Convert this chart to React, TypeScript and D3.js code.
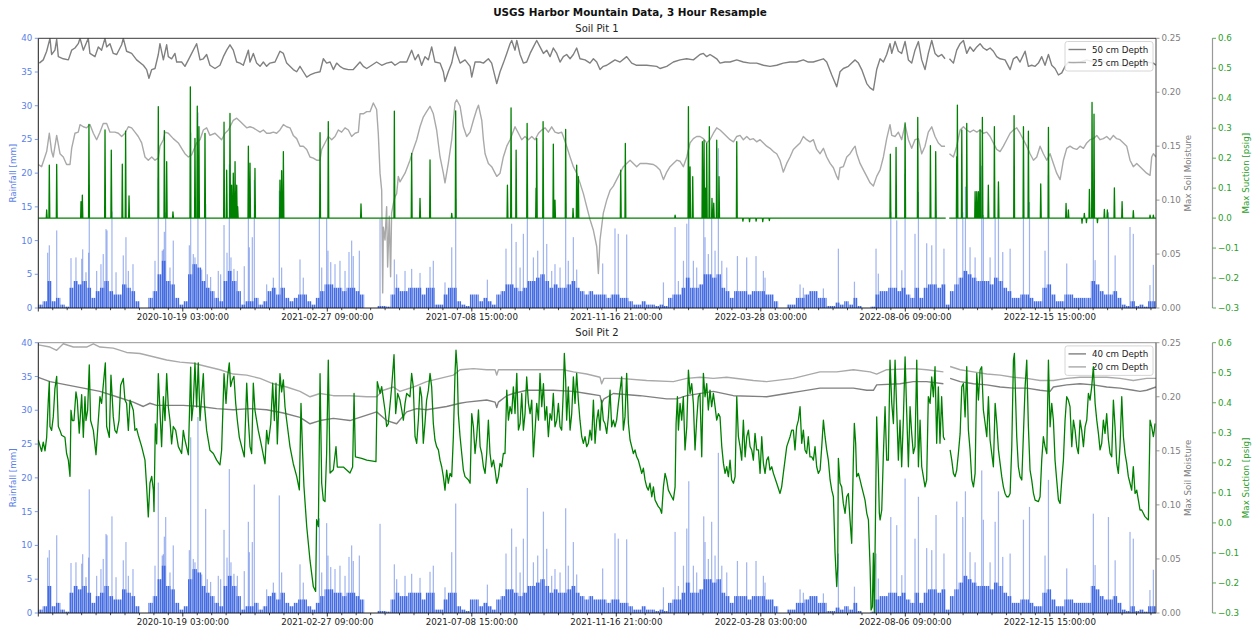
import React from "react";
import * as d3 from "d3";

type Pt = [number, number | null];

// ---- time base (3-hour resample index expressed in days from start) ----
const START_MS = Date.UTC(2020, 5, 9, 21, 0, 0);
const DAY_MS = 86400000;
const SPAN_DAYS = 1015.2;
const MAJOR_STEP_DAYS = 131.25;
const MINOR_PER_MAJOR = 10;
const RAIN_BIN_DAYS = 4;
const GAPS: [number, number][] = [[824.2, 827.4]];

const rainTicks = [0, 5, 10, 15, 20, 25, 30, 35, 40];
const moistureTicks = [0, 0.05, 0.1, 0.15, 0.2, 0.25];
const suctionTicks = [-0.3, -0.2, -0.1, 0, 0.1, 0.2, 0.3, 0.4, 0.5, 0.6];

// ---- rainfall (shared by both pits): typical dense height per 4-day bin, mm ----
const rainBulk = [
  0.5, 1, 4, 1, 1.5, 0.5, 0.2, 3, 4, 3.5, 4, 3, 1.5, 2.5, 3, 4, 2.5, 2, 2, 3.5,
  3, 2.5, 1, 0, 0, 1.5, 2.5, 5, 7, 4, 3.5, 1.5, 0.5, 1, 5, 6.5, 6, 4, 3, 2.5,
  1.5, 1, 4, 5.5, 4, 2.5, 0.5, 1, 1, 1.5, 0.5, 1, 2.5, 3, 2, 3, 1.5, 1, 1.5, 2,
  2, 1, 0.5, 1.5, 2.5, 3.5, 3.5, 3, 3, 2.5, 3, 3, 2.5, 2, 0, 0, 0, 0.3, 0.3, 0.2,
  2, 3, 2.5, 2.5, 3, 3, 3, 2, 3, 3, 0.5, 0.5, 2, 3, 3, 1, 0.5, 0.3, 2, 2,
  1, 1.5, 1, 0.5, 2, 2.5, 3.5, 3.5, 3, 2.5, 3, 4, 4, 4.5, 5, 4, 3, 3.5, 3, 3,
  3.5, 4, 3, 2.5, 2, 2.5, 2, 2, 2, 1.5, 2, 2, 1.5, 1.5, 1, 0.5, 0.5, 1, 0.5, 0.5,
  0.3, 0.5, 0.3, 1.5, 2, 2, 3, 4.5, 3, 3, 3.5, 5, 5, 4.5, 5, 3, 2.5, 1.5, 2.5, 2.5,
  2.5, 2, 2.5, 2.5, 2.5, 2, 2, 1, 0, 0, 0.5, 0.5, 1.5, 1.5, 2, 2.5, 2.5, 1.5, 1.5, 0.3,
  0.3, 0.8, 0.5, 1, 0.5, 1.5, 0.3, 0, 0, 0.2, 2, 2.5, 2.5, 3, 3, 2.5, 3, 2, 1.5, 3,
  1.5, 3, 3.5, 3.5, 3, 3.5, 0.5, 2.5, 3.5, 4.5, 5.5, 5, 4.5, 4, 4, 4, 3.5, 4.5, 4, 3,
  2.5, 1.5, 1.5, 2, 2, 1.5, 1, 1, 3, 3.5, 2, 1, 1, 2, 2, 1.5, 1.5, 1.5, 1.5, 4,
  3.5, 2.5, 2, 2, 2.5, 1.5, 0.5, 0.3, 1, 0.3, 0.5, 0.2, 1, 1,
];

// isolated tall rainfall bars [day, mm]
const rainSpikes: [number, number][] = [
  [8.5, 8.2], [10, 9.3], [16.7, 11.5], [29.7, 7.4], [34.2, 7.5], [39.4, 7.3], [40.3, 8.7], [43.3, 5.3],
  [45.7, 8.2], [46.3, 18.3], [53, 5.5], [56.9, 6.5], [59, 8], [61.5, 11.7], [62.4, 11.5], [66.9, 14.3],
  [70.6, 5.3], [77.2, 7.8], [79.6, 10.5], [81.8, 5.5], [86, 6.5], [106, 7], [109, 19.3], [112.6, 8.5],
  [113.6, 8.7], [114.5, 11.3], [115.7, 14.2], [119.6, 6], [122.6, 10], [137.2, 9.3], [138.4, 26],
  [140.8, 8], [142.3, 7.5], [145, 29], [148.4, 5.7], [152, 15.4], [153.5, 5], [156.5, 4.6], [163.5, 5.5],
  [165.6, 5], [168.7, 12.3], [171.4, 8.2], [173.5, 21.3], [175, 7.5], [177.7, 5.8], [180.8, 5.5],
  [187.1, 6.2], [190.8, 13.5], [191.7, 9], [194.4, 10.5], [196.2, 19], [207.4, 3.5], [213.5, 4.5],
  [218.9, 17.4], [221, 6], [237.7, 7.2], [240.7, 4.5], [255.3, 14], [257.4, 6], [261.9, 13.3],
  [263.1, 8.5], [265.6, 6.8], [269.5, 6.5], [274, 7], [278.6, 5.5], [282.2, 8.3], [284.6, 10],
  [286.1, 7.7], [291.6, 8.5], [310.4, 13.2], [323.4, 7.2], [325.5, 5], [333.1, 5.5], [339.1, 5.8],
  [346.7, 5.2], [355.8, 6.1], [358.8, 7], [369.4, 3.8], [375.5, 9], [379.1, 16.2], [407.9, 4.2],
  [424.8, 8.8], [429.9, 12.5], [434, 9.8], [437.6, 6], [440.6, 11], [444.2, 18.5], [449.7, 7.5],
  [453.6, 8.5], [458.8, 15], [461.8, 9.5], [466.3, 5.5], [469.3, 6.5], [473.9, 6], [479, 15.5],
  [481.4, 7], [486, 10.5], [489, 5.7], [512.6, 6.6], [523.8, 11.8], [526.8, 11], [534.4, 10.9],
  [567.8, 3.8], [578.4, 12], [581.4, 4], [586, 7], [589, 12.5], [590.8, 19.5], [595, 7], [598, 6],
  [604.4, 14.3], [605.6, 10.5], [608.6, 8], [611.6, 13.5], [614.7, 8.5], [617.7, 23.7], [620.8, 7],
  [625.3, 6], [635, 7.7], [643.4, 7.5], [651.9, 7.7], [658.6, 5.5], [660.1, 4.5], [691.9, 3.5],
  [694.9, 3], [713.1, 2.9], [726.7, 8.8], [741.3, 3.9], [760.9, 8.8], [763, 5.1], [774.3, 14.2],
  [779.7, 13], [784.3, 5.6], [787.3, 19.9], [796.3, 11], [799.4, 17.2], [806.9, 9.6], [811.5, 9.3],
  [815.4, 14.5], [822.6, 8.8], [834.2, 16.5], [839.7, 14.2], [842.1, 18], [846.3, 9], [850.9, 7.5],
  [856.9, 21.1], [858.4, 13.8], [864.5, 7.5], [869.1, 13.5], [872.1, 18], [876, 8.3], [882.7, 8.8],
  [894.8, 13.8], [900.3, 15.7], [914.4, 8.5], [917.5, 19.7], [934.1, 6.6], [958.3, 14.7],
  [959.9, 7.1], [972, 14.2], [978.1, 7.8], [991.6, 12], [994.6, 11], [1009.7, 3.4], [1012.8, 6.4],
];

// ---- Soil Pit 1 ----
const pit1Depth50: Pt[] = [
  [0.9, .227], [4.5, .230], [7.6, .238], [10.6, .25], [12.1, .235], [15.1, .239], [16.7, .249], [18.2, .233],
  [22.7, .231], [27.3, .230], [30.3, .239], [33.3, .241], [36.3, .245], [37.9, .25], [40.9, .239], [45.4, .25],
  [46.9, .236], [51.5, .233], [54.5, .242], [57.5, .239], [60.6, .25], [62.1, .242], [65.1, .245], [68.1, .236],
  [71.2, .235], [75.7, .244], [77.2, .25], [80.2, .238], [84.8, .236], [89.3, .230], [95.4, .225], [98.4, .221],
  [100.5, .213], [103, .221], [106, .222], [109, .235], [110.5, .245], [113.6, .230], [116.6, .244], [118.1, .233],
  [121.1, .231], [124.1, .236], [125.7, .228], [130.2, .228], [133.2, .224], [136.3, .230], [139.3, .236],
  [143.8, .245], [146.9, .230], [149.9, .231], [152.9, .235], [155.9, .225], [160.5, .222], [165, .225],
  [168.1, .233], [171.1, .239], [174.1, .244], [177.1, .239], [180.2, .228], [183.2, .227], [186.2, .225],
  [190.8, .239], [192.3, .228], [195.3, .236], [198.3, .227], [201.4, .224], [204.4, .228], [207.4, .224],
  [210.4, .227], [215, .228], [219.5, .238], [222.6, .236], [225.6, .227], [228.6, .224], [231.6, .221],
  [234.7, .219], [237.7, .224], [240.7, .219], [243.8, .214], [246.8, .216], [251.3, .218], [255.9, .219],
  [258.9, .231], [261.9, .227], [265, .228], [268, .221], [271, .227], [274, .224], [277.1, .222], [281.6, .221],
  [286.1, .221], [292.2, .228], [295.2, .224], [298.3, .222], [302.8, .225], [307.3, .228], [311.9, .225],
  [316.4, .227], [320.9, .228], [324, .225], [328.5, .228], [334.6, .228], [339.1, .239], [342.2, .230],
  [345.2, .235], [348.2, .225], [351.2, .233], [354.3, .230], [357.3, .242], [360.3, .228], [364.9, .227],
  [367.9, .219], [369.4, .210], [372.4, .219], [375.5, .227], [378.5, .242], [380, .236], [383.1, .227],
  [387.6, .230], [392.2, .224], [393.7, .214], [396.7, .228], [401.3, .228], [404.3, .227], [408.8, .231],
  [411.8, .227], [416.4, .208], [419.4, .219], [422.4, .227], [425.5, .236], [428.5, .245], [430, .248],
  [433, .239], [434.6, .248], [437.6, .235], [440.6, .227], [443.6, .228], [446.7, .236], [449.7, .242],
  [452.7, .248], [455.7, .242], [458.8, .236], [461.8, .239], [464.8, .233], [467.8, .241], [470.9, .236],
  [473.9, .228], [476.9, .233], [479.9, .235], [483, .231], [486, .235], [489, .241], [492, .231], [496.6, .230],
  [501.1, .227], [504.2, .231], [507.2, .228], [510.2, .221], [513.2, .224], [516.3, .225], [519.3, .227],
  [523.8, .230], [528.4, .228], [534.4, .233], [539, .227], [543.5, .225], [552.6, .225], [561.7, .224],
  [564.7, .222], [570.8, .224], [576.8, .228], [582.9, .230], [588.9, .231], [595, .230], [601, .235],
  [604.1, .236], [607.1, .233], [610.1, .235], [613.2, .233], [616.2, .231], [619.2, .227], [623.8, .228],
  [628.3, .228], [634.4, .230], [640.4, .228], [646.5, .227], [652.5, .227], [658.6, .225], [664.6, .224],
  [670.7, .225], [676.7, .227], [682.8, .228], [688.8, .228], [694.9, .230], [699.4, .228], [703.9, .228],
  [710.1, .230], [713.1, .231], [716.1, .228], [720.7, .216], [725.2, .205], [728.2, .219], [731.2, .222],
  [735.8, .224], [738.8, .227], [741.9, .230], [744.9, .227], [747.9, .221], [752.5, .208], [755.5, .204],
  [758.5, .202], [761.5, .221], [764.6, .231], [767.6, .228], [770.6, .235], [773.6, .245], [775.2, .236],
  [778.2, .247], [781.2, .238], [784.2, .236], [787.3, .247], [790.3, .230], [793.3, .227], [796.3, .239],
  [799.4, .247], [802.4, .230], [805.4, .221], [808.4, .236], [811.5, .248], [814.5, .236], [817.5, .233],
  [820.5, .235], [823.6, .231], [825, null], [827.6, .231], [831.2, .227], [834.2, .239], [837.3, .245],
  [840.3, .248], [843.3, .236], [846.3, .242], [849.4, .238], [852.4, .242], [855.4, .245], [858.4, .241],
  [861.5, .239], [864.5, .241], [867.5, .238], [870.5, .233], [873.6, .231], [878.1, .230], [882.7, .221],
  [885.7, .231], [888.7, .233], [891.7, .228], [896.3, .238], [899.3, .224], [902.3, .225], [905.4, .224],
  [908.4, .227], [911.4, .233], [914.4, .225], [917.5, .235], [920.5, .225], [923.5, .222], [926.6, .216],
  [929.6, .218], [932.6, .224], [935.6, .228], [940.2, .227], [946.2, .228], [952.3, .230], [958.3, .228],
  [964.4, .230], [970.4, .227], [976.5, .225], [982.5, .225], [988.6, .224], [994.6, .225], [1000.7, .227],
  [1006.7, .228], [1012.8, .227], [1015.2, .225],
];

const pit1Depth25: Pt[] = [
  [0, .133], [3, .131], [7.6, .145], [10, .162], [12.1, .145], [13.6, .140], [16.7, .160], [19.7, .143],
  [22.7, .140], [25.7, .133], [28.8, .133], [30.3, .148], [33.3, .162], [36.3, .163], [37.9, .170], [40.9, .168],
  [43.9, .167], [46.9, .170], [50, .162], [53, .156], [56, .163], [59, .171], [62.1, .171], [65.1, .163],
  [69.6, .163], [72.7, .162], [75.7, .159], [78.7, .162], [81.8, .168], [84.8, .167], [87.8, .163], [90.8, .159],
  [93.9, .153], [96.9, .140], [99.9, .137], [103, .140], [106, .137], [109, .139], [110.5, .150], [113.6, .156],
  [115.1, .163], [118.1, .162], [122.6, .157], [127.2, .153], [130.2, .148], [133.2, .143], [136.3, .140],
  [139.3, .142], [143.8, .153], [146.9, .156], [149.9, .165], [152.9, .167], [155.9, .160], [160.5, .162],
  [163.5, .159], [166.5, .156], [169.6, .162], [172.6, .165], [177.1, .174], [180.2, .176], [183.2, .173],
  [186.2, .170], [189.3, .167], [192.3, .168], [195.3, .167], [198.3, .165], [201.4, .163], [204.4, .165],
  [207.4, .162], [210.4, .162], [213.5, .163], [216.5, .162], [219.5, .165], [222.6, .170], [225.6, .168],
  [228.6, .167], [231.6, .160], [234.7, .157], [237.7, .150], [240.7, .150], [243.8, .147], [246.8, .140],
  [249.8, .139], [252.8, .137], [255.9, .137], [257.4, .147], [260.4, .153], [263.4, .159], [266.5, .156],
  [269.5, .159], [272.5, .165], [275.5, .163], [278.6, .167], [281.6, .165], [284.6, .159], [287.7, .162],
  [290.7, .163], [292.2, .180], [295.2, .180], [298.3, .182], [301.3, .182], [304.3, .190], [307.3, .184],
  [308.8, .162], [310.4, .125], [311.9, .109], [312.8, .014], [313.4, .075], [314.9, .063], [316.4, .094],
  [317.3, .038], [318.8, .085], [320, .029], [320.9, .088], [322.5, .097], [324, .103], [325.5, .106],
  [327, .122], [328.5, .117], [333.1, .125], [337.6, .137], [340.6, .147], [343.7, .156], [346.7, .168],
  [349.7, .177], [352.7, .182], [355.8, .187], [358.8, .180], [361.8, .165], [364.9, .140], [367.9, .125],
  [369.4, .116], [372.4, .134], [375.5, .156], [378.5, .190], [380, .193], [383.1, .187], [386.1, .168],
  [389.1, .159], [392.2, .163], [395.2, .174], [398.2, .184], [399.8, .188], [402.8, .174], [404.3, .156],
  [405.8, .143], [408.8, .134], [411.8, .131], [416.4, .122], [419.4, .125], [422.4, .140], [425.5, .150],
  [428.5, .156], [433, .168], [436.1, .162], [439.1, .156], [442.1, .159], [445.2, .156], [448.2, .159],
  [451.2, .156], [454.3, .162], [457.3, .165], [460.3, .167], [463.3, .163], [466.3, .168], [469.3, .163],
  [472.4, .162], [475.4, .163], [476.9, .159], [479.9, .150], [483, .140], [486, .131], [489, .125],
  [492, .116], [495.1, .106], [498.1, .094], [501.1, .082], [504.2, .072], [507.2, .057], [508.7, .032],
  [510.2, .063], [513.2, .088], [516.3, .100], [519.3, .109], [522.3, .113], [525.3, .119], [528.4, .125],
  [531.4, .131], [534.4, .134], [537.5, .137], [540.5, .134], [543.5, .131], [546.6, .134], [552.6, .134],
  [558.7, .133], [561.7, .131], [564.7, .128], [567.8, .119], [570.8, .126], [573.8, .131], [576.8, .134],
  [579.9, .137], [582.9, .136], [585.9, .131], [589, .140], [592, .153], [595, .157], [598, .159], [601, .159],
  [604.1, .157], [607.1, .153], [610.1, .156], [613.2, .162], [616.2, .167], [619.2, .165], [622.3, .162],
  [625.3, .159], [628.3, .156], [631.4, .154], [634.4, .159], [637.4, .160], [640.4, .156], [643.5, .159],
  [646.5, .156], [649.5, .157], [652.5, .154], [655.6, .156], [658.6, .153], [661.6, .150], [664.6, .148],
  [667.7, .145], [670.7, .143], [673.7, .137], [676.7, .126], [679.8, .134], [682.8, .140], [685.8, .147],
  [688.8, .150], [691.9, .153], [694.9, .159], [697.9, .156], [700.9, .154], [704, .156], [707, .147],
  [710.1, .143], [713.1, .148], [716.1, .140], [719.2, .134], [722.2, .130], [725.2, .122], [726.7, .119],
  [728.2, .130], [731.2, .131], [734.3, .140], [737.3, .143], [740.3, .148], [741.9, .150], [743.4, .143],
  [746.4, .134], [749.4, .128], [752.5, .122], [755.5, .116], [758.5, .113], [761.5, .122], [764.6, .128],
  [767.6, .140], [770.6, .157], [773.6, .170], [775.2, .160], [778.2, .159], [781.2, .163], [784.2, .156],
  [787.3, .170], [790.3, .156], [793.3, .148], [796.3, .156], [799.4, .157], [802.4, .143], [805.4, .150],
  [808.4, .163], [811.5, .168], [814.5, .159], [817.5, .153], [820.5, .150], [823.6, .150], [825, null],
  [827.6, .143], [831.2, .140], [834.2, .150], [837.3, .165], [840.3, .168], [843.3, .165], [846.3, .163],
  [849.4, .165], [852.4, .163], [855.4, .165], [858.4, .162], [861.5, .163], [864.5, .159], [867.5, .153],
  [870.5, .147], [873.6, .145], [876.6, .150], [879.6, .156], [882.7, .162], [885.7, .165], [888.7, .167],
  [891.7, .162], [894.8, .156], [897.8, .150], [900.8, .143], [903.9, .137], [906.9, .140], [909.9, .150],
  [912.9, .143], [916, .137], [919, .143], [922, .134], [925, .125], [928.1, .119], [931.1, .137], [934.1, .148],
  [937.1, .150], [940.2, .148], [943.2, .147], [946.2, .150], [949.3, .148], [952.3, .153], [955.3, .156],
  [958.3, .157], [961.4, .160], [964.4, .156], [967.4, .157], [970.4, .159], [973.5, .156], [976.5, .160],
  [979.5, .157], [982.5, .156], [985.6, .153], [988.6, .150], [991.6, .137], [994.6, .131], [997.7, .134],
  [1000.7, .131], [1003.7, .128], [1006.7, .125], [1009.8, .123], [1011.3, .140], [1012.8, .143], [1015.2, .140],
];

// suction peaks for pit 1 (baseline is 0 psig between them) [day, psig]
const pit1SuctionPeaks: [number, number][] = [
  [7.6, 0.027], [10, 0.177], [16.7, 0.179], [38.8, 0.055], [40, 0.077], [46, 0.313], [60.6, 0.294],
  [66.3, 0.227], [76.3, 0.18], [79.3, 0.29], [82.4, 0.074], [109, 0.372], [114.5, 0.292], [116.6, 0.188],
  [122.3, 0.021], [138.1, 0.438], [142.3, 0.266], [144.4, 0.374], [145.9, 0.305], [151.4, 0.283],
  [168.7, 0.32], [171.1, 0.16], [174.1, 0.349], [175.6, 0.11], [177.1, 0.15], [178.7, 0.188], [180.2, 0.11],
  [181.1, 0.038], [190.8, 0.24], [192.3, 0.183], [196.8, 0.166], [219.5, 0.127], [221, 0.158],
  [222.6, 0.222], [255.9, 0.285], [263.4, 0.322], [293.1, 0.047], [323.4, 0.357], [339.1, 0.216],
  [346.7, 0.066], [355.8, 0.194], [375.5, 0.016], [379.1, 0.358], [426.1, 0.11], [429.4, 0.368],
  [434, 0.227], [444, 0.316], [452.1, 0.1], [452.7, 0.266], [458.5, 0.322], [467.8, 0.247], [469.3, 0.06],
  [479, 0.296], [485.7, 0.032], [489, 0.177], [490.5, 0.138], [529, 0.16], [533.2, 0.249], [578.4, 0.01],
  [590.5, 0.372], [592, 0.171], [594.4, 0.138], [603.2, 0.255], [604.7, 0.26], [606, 0.1], [607.1, 0.249],
  [609.5, 0.305], [611.9, 0.066], [613.5, 0.05], [616.2, 0.26], [618.3, 0.138], [634.4, 0.255],
  [640, -0.01], [646, -0.012], [652, -0.01], [658, -0.012], [664, -0.008], [773.9, 0.213], [779.1, 0.236],
  [787.3, 0.318], [798.8, 0.336], [810.3, 0.242], [815.1, 0.222], [834.2, 0.205], [834.8, 0.377],
  [838.8, 0.294], [843.3, 0.316], [850.9, 0.088], [852.4, 0.088], [853.9, 0.088], [855.4, 0.294],
  [857.5, 0.336], [862.9, 0.11], [868.4, 0.305], [872.1, 0.121], [886.3, 0.342], [894.8, 0.305],
  [899.3, 0.29], [910.5, 0.114], [917.5, 0.303], [933.5, 0.049], [935.6, 0.027], [948, -0.017],
  [950.1, 0.016], [952, -0.015], [954.7, 0.096], [957.1, 0.386], [958.9, 0.347], [962, -0.015],
  [968.3, 0.029], [971, 0.027], [977.4, 0.101], [984.4, 0.055], [994.6, 0.025], [1009.8, 0.01], [1012.8, 0.01],
];

// ---- Soil Pit 2 ----
const pit2Depth40: Pt[] = [
  [0, .218], [10.6, .214], [25.7, .211], [40.9, .208], [56, .205], [71.2, .200], [86.3, .195], [95.4, .191],
  [101.4, .194], [107.5, .192], [116.6, .192], [131.7, .192], [146.9, .191], [162, .189], [177.1, .188],
  [192.3, .189], [207.4, .188], [222.6, .185], [237.7, .181], [246.8, .175], [255.9, .178], [268, .180],
  [283.1, .178], [289.2, .180], [298.3, .183], [307.3, .186], [316.4, .178], [325.5, .175], [334.6, .186],
  [343.7, .189], [352.7, .188], [370.9, .191], [383.1, .194], [389.1, .195], [407.3, .197], [414.9, .195],
  [416.4, .190], [417.9, .195], [425.5, .201], [431.5, .203], [443.6, .206], [467.8, .206], [486, .205],
  [498.1, .203], [510.2, .201], [511.7, .194], [513.8, .198], [522.3, .203], [546.6, .201], [570.8, .198],
  [579.9, .198], [589, .201], [613.2, .205], [631.4, .201], [661.6, .200], [679.8, .203], [691.9, .205],
  [710, .208], [740.3, .208], [752.5, .206], [758.5, .206], [761.5, .211], [782.7, .212], [794.8, .214],
  [806.9, .214], [822.1, .212], [825, null], [828.2, .217], [837.3, .214], [849.4, .212], [861.5, .211],
  [873.6, .209], [885.7, .208], [897.8, .208], [909.9, .206], [919, .205], [922, .209], [934.1, .211],
  [946.2, .212], [958.3, .211], [970.4, .209], [982.5, .208], [994.6, .206], [1000.7, .205], [1006.7, .206],
  [1015.2, .209],
];

const pit2Depth20: Pt[] = [
  [0, .248], [10.6, .246], [16.7, .243], [22.7, .249], [31.8, .246], [43.9, .246], [50, .249], [56, .246],
  [68.1, .245], [80.2, .241], [92.4, .240], [104.5, .237], [116.6, .234], [128.7, .232], [140.8, .231],
  [152.9, .228], [165, .225], [177.1, .221], [189.3, .220], [201.4, .217], [213.5, .212], [225.6, .209],
  [237.7, .205], [246.8, .200], [255.9, .203], [268, .201], [283.1, .201], [298.3, .200], [307.3, .200],
  [313.4, .206], [322.5, .209], [328.5, .205], [340.6, .209], [352.7, .214], [364.9, .217], [377, .220],
  [383.1, .225], [395.2, .226], [407.3, .225], [414.9, .225], [416.4, .220], [417.9, .225], [431.5, .225],
  [476.9, .225], [486, .223], [498.1, .221], [510.2, .218], [511.7, .212], [513.8, .217], [528.4, .217],
  [552.6, .215], [576.8, .214], [589, .217], [601, .218], [613.2, .217], [625.3, .218], [649.5, .215],
  [661.6, .214], [685.8, .217], [697.9, .220], [710, .223], [725.2, .223], [740.3, .225], [755.5, .223],
  [761.5, .221], [770.6, .225], [794.8, .226], [806.9, .225], [822.1, .223], [825, null], [828.2, .228],
  [837.3, .225], [849.4, .223], [861.5, .221], [873.6, .220], [885.7, .218], [897.8, .217], [909.9, .215],
  [922, .215], [934.1, .217], [946.2, .218], [970.4, .218], [982.5, .217], [994.6, .215], [1006.7, .217],
  [1015.2, .217],
];

const pit2Suction: Pt[] = [
  [0, .276], [3, .238], [4.5, .269], [6.1, .24], [7.6, .285], [9.1, .409], [10, .47], [10.6, .321], [12.1, .308],
  [13.6, .353], [15.1, .447], [16.7, .488], [18.2, .321], [19.7, .308], [21.2, .292], [24.2, .285], [25.7, .231],
  [27.3, .209], [28.8, .155], [29.7, .375], [30.9, .341], [32.4, .341], [34.2, .436], [35.4, .409], [37.2, .299],
  [39.4, .427], [40.9, .285], [42.4, .42], [43.3, .341], [44.8, .375], [46.3, .526], [47.5, .341], [50, .308],
  [52.4, .227], [54.5, .341], [56, .42], [57.5, .398], [59, .458], [60.9, .533], [62.1, .321], [64.5, .285],
  [66, .492], [68.1, .353], [69.6, .308], [71.2, .299], [73.3, .341], [74.8, .458], [77.2, .481], [78.7, .409],
  [80.2, .398], [81.8, .308], [83.3, .409], [86.3, .375], [87.8, .308], [89.3, .314], [90.8, .292], [93.9, .254],
  [96.9, .209], [98.4, .121], [99.9, .02], [101.4, .132], [103, .155], [104.5, .11], [105.1, .038], [106.3, .33],
  [107.5, .263], [109, .497], [110.5, .375], [112, .254], [113.6, .42], [115.1, .341], [116.6, .497],
  [118.1, .386], [119.6, .341], [121.1, .263], [122.6, .321], [124.8, .308], [127.2, .254], [130.2, .231],
  [131.7, .308], [133.2, .276], [136.3, .227], [138.4, .519], [139.3, .341], [140.8, .398], [142.3, .533],
  [143.8, .386], [145.3, .533], [146.9, .341], [148.4, .42], [149.9, .497], [150.8, .398], [152.9, .308],
  [155.9, .242], [159, .231], [162, .209], [165, .193], [166.5, .242], [168.7, .497], [170.5, .398],
  [172, .488], [173.5, .533], [174.7, .454], [176.2, .476], [177.7, .488], [179.3, .398], [180.8, .341],
  [182.6, .285], [184.7, .254], [187.1, .22], [189.3, .465], [190.8, .341], [192.3, .254], [193.8, .231],
  [195.3, .465], [196.8, .375], [199.8, .308], [202.9, .254], [205.9, .197], [207.4, .308], [208.9, .263],
  [211.1, .33], [212.9, .465], [214.4, .341], [215.9, .465], [217.1, .263], [219.5, .497], [221, .436],
  [222.6, .476], [224.1, .386], [225.6, .341], [228.6, .254], [231.6, .197], [234.7, .155], [237.1, .11],
  [238.6, .398], [240.1, .231], [241.3, .121], [243.8, -.012], [246.8, -.125], [249.8, -.212], [251.9, -.228],
  [252.8, .011], [254.4, -.012], [255.9, .497], [257.4, .132], [258.9, .076], [260.4, .071], [261.9, .231],
  [263.4, .542], [265, .166], [268, .177], [270.4, .254], [271.6, .186], [277.1, .186], [283.1, .166],
  [285.5, .186], [286.8, .431], [288, .22], [293.7, .215], [298.3, .209], [306.7, .204], [307.9, .47],
  [310.4, .431], [311.9, .454], [314.9, .375], [316.4, .321], [317.9, .33], [321, .454], [323.1, .56],
  [324.6, .364], [326.4, .431], [328.5, .409], [330.1, .376], [331.6, .342], [333.1, .398], [334.6, .431],
  [337.6, .42], [339.1, .498], [340.6, .453], [342.2, .287], [343.7, .265], [345.2, .342], [346.7, .453],
  [348.2, .42], [349.7, .265], [351.2, .331], [352.7, .409], [354.3, .442], [355.8, .498], [357.3, .453],
  [358.8, .331], [360.3, .276], [361.8, .254], [363.4, .243], [364.9, .209], [366.4, .187], [367.9, .154],
  [369.4, .109], [370.9, .176], [372.4, .132], [374, .165], [375.5, .154], [377, .287], [378.5, .498],
  [379.4, .575], [380.6, .509], [381.5, .364], [383.1, .287], [384.6, .231], [386.1, .176], [387.6, .154],
  [390.7, .143], [392.2, .132], [393.7, .364], [395.2, .32], [396.7, .231], [398.2, .287], [399.8, .376],
  [401.3, .254], [402.8, .231], [404.3, .187], [405.8, .165], [407.3, .231], [408.8, .342], [410.3, .231],
  [411.8, .187], [413.4, .209], [414.9, .176], [416.4, .132], [417.9, .154], [419.4, .198], [420.9, .187],
  [422.4, .231], [423.9, .231], [425.5, .442], [427, .342], [428.5, .387], [430, .364], [431.5, .453],
  [433, .364], [434.6, .498], [436.1, .309], [437.6, .331], [439.1, .431], [440.6, .309], [442.1, .364],
  [443.6, .486], [445.2, .398], [446.7, .364], [448.2, .409], [449.7, .22], [451.2, .309], [452.7, .398],
  [454.3, .342], [455.7, .498], [457.3, .387], [458.8, .464], [460.3, .342], [461.8, .387], [463.3, .287],
  [464.8, .364], [466.3, .342], [467.8, .431], [469.3, .32], [470.9, .342], [472.4, .398], [473.9, .32],
  [475.4, .309], [476.9, .442], [477.8, .564], [479, .475], [479.9, .342], [481.4, .453], [483, .309],
  [484.5, .364], [486, .486], [487.5, .398], [489, .498], [490.5, .409], [492, .342], [493.6, .287],
  [495.1, .265], [496.6, .287], [498.1, .254], [499.6, .265], [501.1, .309], [502.6, .276], [504.2, .409],
  [505.7, .265], [507.2, .342], [508.7, .376], [510.2, .309], [511.7, .409], [513.2, .342], [514.7, .331],
  [516.3, .298], [517.8, .353], [519.3, .442], [520.8, .32], [522.3, .342], [523.8, .32], [525.3, .342],
  [526.9, .398], [528.4, .442], [529.9, .486], [531.4, .309], [532.9, .353], [534.4, .498], [536, .331],
  [537.5, .276], [539, .254], [540.5, .231], [542, .243], [543.5, .22], [545, .209], [546.6, .187],
  [548.1, .165], [549.6, .182], [551.1, .143], [552.6, .12], [554.1, .109], [555.6, .132], [557.2, .087],
  [558.7, .12], [560.2, .076], [561.7, .065], [563.2, .054], [564.7, .048], [566.2, .032], [567.8, .12],
  [569.3, .165], [570.8, .143], [572.3, .109], [573.8, .098], [575.3, .087], [576.8, .076], [578.4, .12],
  [579.3, .331], [580.5, .42], [581.4, .309], [582.9, .398], [584.4, .342], [585.9, .42], [587.4, .243],
  [589, .32], [590.5, .509], [592, .431], [593.5, .464], [595, .398], [596.5, .243], [598, .342], [599.5, .42],
  [601, .431], [602.6, .22], [604.1, .498], [605.6, .42], [607.1, .464], [608.6, .376], [610.1, .442],
  [611.6, .387], [613.2, .431], [614.7, .387], [616.2, .342], [617.7, .364], [619.2, .353], [620.8, .254],
  [622.3, .198], [623.8, .165], [625.3, .187], [626.8, .154], [628.3, .209], [629.8, .143], [631.4, .132],
  [632.9, .154], [634.4, .42], [635.9, .287], [637.4, .254], [638.9, .209], [640.4, .342], [642, .22],
  [643.5, .287], [645, .309], [646.5, .254], [648, .243], [649.5, .209], [651, .298], [652.5, .243],
  [654.1, .243], [655.6, .165], [657.1, .287], [658.6, .198], [660.1, .165], [661.6, .209], [663.1, .22],
  [664.6, .176], [666.2, .187], [667.7, .165], [670.7, .132], [673.7, .098], [675.2, .12], [676.7, .165],
  [679.8, .254], [682.8, .287], [684.3, .309], [685.8, .309], [687.3, .243], [688.8, .32], [690.4, .342],
  [691.9, .387], [693.4, .265], [694.9, .309], [696.4, .243], [697.9, .231], [699.4, .287], [700.9, .22],
  [702.5, .22], [704, .209], [705.5, .254], [707, .187], [708.5, .165], [710.1, .176], [711.6, .254],
  [713.1, .342], [714.6, .287], [716.1, .243], [717.6, .209], [719.2, .143], [720.7, .109], [722.2, .087],
  [723.7, -.101], [725.2, -.212], [726.1, -.146], [726.7, .215], [728.2, .132], [729.7, .12], [731.2, .065],
  [732.8, .032], [734.3, .087], [735.8, .098], [737.3, .01], [738.8, -.068], [740.3, .209], [741.2, .331],
  [742.4, .265], [743.3, .154], [744.9, .165], [746.4, .143], [747.9, .12], [749.4, .098], [750.9, .076],
  [752.5, .032], [754, .01], [755.5, -.146], [756.4, -.29], [757.6, -.279], [758.5, -.101], [759.4, -.301],
  [760, -.101], [761.5, .353], [763, .176], [763.9, .032], [764.6, .01], [766.1, .043], [767.6, .231],
  [769.1, .387], [770.6, .209], [772.1, .209], [773.6, .542], [775.2, .398], [776.7, .331], [778.2, .542],
  [779.7, .376], [781.2, .209], [782.7, .342], [784.2, .187], [785.7, .342], [787.3, .553], [788.8, .364],
  [790.3, .187], [791.8, .387], [793.3, .298], [794.8, .231], [796.3, .254], [797.9, .542], [799.4, .187],
  [800.9, .342], [802.4, .187], [803.9, .154], [805.4, .12], [806.9, .143], [808.4, .42], [810, .398],
  [811.5, .486], [813, .42], [814.5, .52], [816, .265], [817.5, .453], [819, .265], [820.5, .42], [822.1, .287],
  [823.3, .276], [825, null], [828.2, .243], [829.7, .209], [831.2, .165], [832.7, .154], [834.2, .176],
  [835.7, .231], [837.3, .298], [838.8, .453], [840.3, .464], [841.8, .353], [843.3, .52], [844.8, .309],
  [846.3, .243], [847.9, .143], [849.4, .12], [850.9, .165], [852.4, .498], [853.9, .409], [855.4, .509],
  [856.9, .52], [858.4, .376], [860, .331], [861.5, .287], [863, .42], [864.5, .276], [866, .231], [867.5, .187],
  [869.1, .398], [870.6, .331], [872.1, .243], [873.6, .198], [875.1, .154], [876.6, .12], [878.1, .098],
  [879.6, .087], [881.2, .087], [882.7, .098], [884.2, .254], [885.7, .542], [886.6, .564], [887.2, .475],
  [888.7, .287], [890.2, .187], [891.7, .154], [893.3, .143], [894.8, .298], [896.3, .453], [897.8, .542],
  [899.3, .32], [900.8, .176], [902.3, .143], [903.9, .098], [905.4, .076], [908.4, .071], [909.9, .087],
  [911.4, .209], [912.9, .287], [914.4, .254], [916, .231], [917.5, .542], [919, .32], [920.5, .398],
  [922, .342], [923.5, .209], [925, .143], [926.6, .076], [928.1, .065], [929.6, .143], [931.1, .209],
  [932.6, .342], [934.1, .42], [935.6, .409], [937.1, .387], [938.7, .254], [940.2, .342], [941.7, .309],
  [943.2, .254], [944.7, .231], [946.2, .342], [947.7, .309], [949.3, .254], [950.8, .32], [952.3, .342],
  [953.8, .431], [955.3, .409], [956.8, .453], [958.3, .52], [959.9, .398], [961.4, .342], [962.9, .298],
  [964.4, .243], [965.9, .265], [967.4, .342], [968.9, .298], [970.4, .364], [972, .276], [973.5, .231],
  [975, .22], [976.5, .409], [978, .32], [979.5, .198], [981, .165], [982.5, .254], [984.1, .42], [985.6, .287],
  [987.1, .231], [988.6, .198], [990.1, .154], [991.6, .132], [993.1, .109], [994.6, .187], [996.2, .098],
  [997.7, .109], [999.2, .076], [1000.7, .043], [1002.2, .043], [1003.7, .032], [1005.2, .021], [1006.7, .015],
  [1008.3, .01], [1009.8, .342], [1011.3, .32], [1012.8, .287], [1013.7, .309], [1014.3, .331],
];

// ---- layout ----
const W = 1255;
const H = 631;
const PLOT_L = 38.3;
const PLOT_R = 1156;
const AX3_X = 1212.5;
const FONT = "'DejaVu Sans', 'Liberation Sans', sans-serif";
const RAIN_COLOR = "#4169e1";
const RAIN_TEXT = "#5b7fe9";
const GREEN = "#008000";
const GREEN_TEXT = "#2a9d2a";
const DARK_GRAY = "#808080";
const LIGHT_GRAY = "#a9a9a9";
const FS = 8.7;

const toDate = (d: number) => new Date(START_MS + d * DAY_MS);
const x = d3.scaleUtc().domain([toDate(0), toDate(SPAN_DAYS)]).range([PLOT_L, PLOT_R]);
const fmtDate = d3.utcFormat("%Y-%m-%d %H:%M:%S");
const fmtMoist = d3.format(".2f");
const fmtSuc = d3.format(".1f");

function suctionFromPeaks(peaks: [number, number][]): Pt[] {
  type Ev = { d: number; v?: number; end?: number };
  const evs: Ev[] = [
    ...peaks.map((p) => ({ d: p[0], v: p[1] })),
    ...GAPS.map((g) => ({ d: g[0], end: g[1] })),
  ].sort((a, b) => a.d - b.d);
  const pts: Pt[] = [[0, 0]];
  for (const e of evs) {
    if (e.end !== undefined) {
      pts.push([e.d, 0], [e.d + 0.01, null], [e.end, 0]);
    } else {
      pts.push([e.d - 0.35, 0], [e.d, e.v as number], [e.d + 0.45, 0]);
    }
  }
  pts.push([SPAN_DAYS, 0]);
  return pts;
}

type PanelProps = {
  idx: number;
  top: number;
  bottom: number;
  title: string;
  lineA: Pt[];
  lineB: Pt[];
  labelA: string;
  labelB: string;
  suction: Pt[];
  topSpine: string;
};

function Panel({ idx, top, bottom, title, lineA, lineB, labelA, labelB, suction, topSpine }: PanelProps) {
  const yRain = d3.scaleLinear().domain([0, 40]).range([bottom, top]);
  const yMoist = d3.scaleLinear().domain([0, 0.25]).range([bottom, top]);
  const ySuc = d3.scaleLinear().domain([-0.3, 0.6]).range([bottom, top]);
  const moistLine = d3
    .line<Pt>()
    .defined((d) => d[1] !== null)
    .x((d) => x(toDate(d[0])))
    .y((d) => yMoist(d[1] as number));
  const sucLine = d3
    .line<Pt>()
    .defined((d) => d[1] !== null)
    .x((d) => x(toDate(d[0])))
    .y((d) => ySuc(d[1] as number));
  const mid = (top + bottom) / 2;
  const clipId = `plotclip${idx}`;

  const majors: number[] = [];
  for (let k = 0; k * MAJOR_STEP_DAYS <= SPAN_DAYS; k++) majors.push(k * MAJOR_STEP_DAYS);
  const minors: number[] = [];
  const minorStep = MAJOR_STEP_DAYS / MINOR_PER_MAJOR;
  for (let k = 0; k * minorStep <= SPAN_DAYS; k++) if (k % MINOR_PER_MAJOR !== 0) minors.push(k * minorStep);

  const legendX = 1065;
  const legendY = top + 3.2;

  return (
    <g>
      <defs>
        <clipPath id={clipId}>
          <rect x={PLOT_L} y={top} width={PLOT_R - PLOT_L} height={bottom - top} />
        </clipPath>
      </defs>
      <text x={597} y={top - 6.5} textAnchor="middle" fontSize={10} fontFamily={FONT} fill="#222">
        {title}
      </text>

      <g clipPath={`url(#${clipId})`}>
        {/* rainfall: dense body (striped to mimic many thin 3-hour bars) */}
        {rainBulk.map((v, i) => {
          if (v <= 0) return null;
          const x0 = x(toDate(i * RAIN_BIN_DAYS));
          const x1 = x(toDate((i + 1) * RAIN_BIN_DAYS));
          return (
            <rect
              key={`b${i}`}
              x={x0}
              width={x1 - x0}
              y={yRain(v)}
              height={bottom - yRain(v)}
              fill="url(#rainStripes)"
            />
          );
        })}
        {rainSpikes.map(([d, v], i) => (
          <rect
            key={`s${i}`}
            x={x(toDate(d)) - 0.6}
            width={1.2}
            y={yRain(v)}
            height={bottom - yRain(v)}
            fill={RAIN_COLOR}
            opacity={0.5}
          />
        ))}
        {/* soil moisture */}
        <path d={moistLine(lineB) || ""} fill="none" stroke={LIGHT_GRAY} strokeWidth={1.4} strokeLinejoin="round" />
        <path d={moistLine(lineA) || ""} fill="none" stroke={DARK_GRAY} strokeWidth={1.4} strokeLinejoin="round" />
      </g>

      {/* legend (belongs to moisture axes, under suction) */}
      <rect x={legendX} y={legendY} width={88} height={29.5} rx={2.5} fill="#fff" fillOpacity={0.85} stroke="#cccccc" strokeWidth={0.8} />
      <line x1={legendX + 3.5} x2={legendX + 21} y1={legendY + 8} y2={legendY + 8} stroke={DARK_GRAY} strokeWidth={1.4} />
      <line x1={legendX + 3.5} x2={legendX + 21} y1={legendY + 21} y2={legendY + 21} stroke={LIGHT_GRAY} strokeWidth={1.4} />
      <text x={legendX + 27} y={legendY + 8} dy="0.35em" fontSize={FS} fontFamily={FONT} fill="#222">{labelA}</text>
      <text x={legendX + 27} y={legendY + 21} dy="0.35em" fontSize={FS} fontFamily={FONT} fill="#222">{labelB}</text>

      <g clipPath={`url(#${clipId})`}>
        <path d={sucLine(suction) || ""} fill="none" stroke={GREEN} strokeWidth={1.3} strokeLinejoin="round" />
      </g>

      {/* frame */}
      <line x1={PLOT_L} x2={PLOT_R} y1={top} y2={top} stroke={topSpine} strokeWidth={0.9} />
      <line x1={PLOT_L} x2={PLOT_R} y1={bottom} y2={bottom} stroke="#000" strokeWidth={0.9} />
      <line x1={PLOT_L} x2={PLOT_L} y1={top} y2={bottom} stroke="#000" strokeWidth={0.9} />
      <line x1={PLOT_R} x2={PLOT_R} y1={top} y2={bottom} stroke="#333" strokeWidth={0.9} />

      {/* x ticks */}
      {minors.map((d, i) => (
        <line key={`mn${i}`} x1={x(toDate(d))} x2={x(toDate(d))} y1={bottom} y2={bottom + 2.2} stroke="#000" strokeWidth={0.7} />
      ))}
      {majors.map((d, i) => (
        <g key={`mj${i}`}>
          <line x1={x(toDate(d))} x2={x(toDate(d))} y1={bottom} y2={bottom + 3.5} stroke="#000" strokeWidth={0.8} />
          {i > 0 && (
            <text x={x(toDate(d))} y={bottom + 11.8} textAnchor="middle" fontSize={FS} fontFamily={FONT} fill="#222">
              {fmtDate(toDate(d))}
            </text>
          )}
        </g>
      ))}

      {/* left rainfall axis */}
      {rainTicks.map((t) => (
        <g key={`r${t}`}>
          <line x1={PLOT_L - 3.5} x2={PLOT_L} y1={yRain(t)} y2={yRain(t)} stroke={RAIN_TEXT} strokeWidth={0.8} />
          <text x={PLOT_L - 6} y={yRain(t)} dy="0.35em" textAnchor="end" fontSize={FS} fontFamily={FONT} fill={RAIN_TEXT}>
            {t}
          </text>
        </g>
      ))}
      <text transform={`translate(12.5,${mid}) rotate(-90)`} textAnchor="middle" dy="0.35em" fontSize={FS} fontFamily={FONT} fill={RAIN_TEXT}>
        Rainfall [mm]
      </text>

      {/* right moisture axis */}
      {moistureTicks.map((t) => (
        <g key={`m${t}`}>
          <line x1={PLOT_R} x2={PLOT_R + 3.5} y1={yMoist(t)} y2={yMoist(t)} stroke={DARK_GRAY} strokeWidth={0.8} />
          <text x={PLOT_R + 5.5} y={yMoist(t)} dy="0.35em" fontSize={FS} fontFamily={FONT} fill={DARK_GRAY}>
            {fmtMoist(t)}
          </text>
        </g>
      ))}
      <text transform={`translate(1187.5,${mid}) rotate(-90)`} textAnchor="middle" dy="0.35em" fontSize={FS} fontFamily={FONT} fill={DARK_GRAY}>
        Max Soil Moisture
      </text>

      {/* far-right suction axis */}
      <line x1={AX3_X} x2={AX3_X} y1={top} y2={bottom} stroke="#999" strokeWidth={1.2} />
      {suctionTicks.map((t) => (
        <g key={`p${t}`}>
          <line x1={AX3_X} x2={AX3_X + 3.5} y1={ySuc(t)} y2={ySuc(t)} stroke={GREEN_TEXT} strokeWidth={0.8} />
          <text x={AX3_X + 5.5} y={ySuc(t)} dy="0.35em" fontSize={FS} fontFamily={FONT} fill={GREEN_TEXT}>
            {fmtSuc(t)}
          </text>
        </g>
      ))}
      <text transform={`translate(1246,${mid}) rotate(-90)`} textAnchor="middle" dy="0.35em" fontSize={FS} fontFamily={FONT} fill={GREEN_TEXT}>
        Max Suction [psig]
      </text>
    </g>
  );
}

export default function App() {
  const pit1Suction = suctionFromPeaks(pit1SuctionPeaks);
  return (
    <svg
      width={W}
      height={H}
      viewBox={`0 0 ${W} ${H}`}
      style={{ position: "absolute", left: 0, top: 0, background: "#fff" }}
    >
      <defs>
        <pattern id="rainStripes" patternUnits="userSpaceOnUse" width={2} height={8}>
          <rect x={0} y={0} width={2} height={8} fill={RAIN_COLOR} fillOpacity={0.45} />
          <rect x={0} y={0} width={1.1} height={8} fill={RAIN_COLOR} fillOpacity={0.95} />
        </pattern>
      </defs>
      <rect x={0} y={0} width={W} height={H} fill="#fff" />
      <text x={630} y={16.3} textAnchor="middle" fontSize={10.4} fontWeight="bold" fontFamily={FONT} fill="#111">
        USGS Harbor Mountain Data, 3 Hour Resample
      </text>
      <Panel
        idx={1}
        top={38.3}
        bottom={308}
        title="Soil Pit 1"
        lineA={pit1Depth50}
        lineB={pit1Depth25}
        labelA="50 cm Depth"
        labelB="25 cm Depth"
        suction={pit1Suction}
        topSpine="#222"
      />
      <Panel
        idx={2}
        top={342.7}
        bottom={613}
        title="Soil Pit 2"
        lineA={pit2Depth40}
        lineB={pit2Depth20}
        labelA="40 cm Depth"
        labelB="20 cm Depth"
        suction={pit2Suction}
        topSpine="#888"
      />
    </svg>
  );
}
